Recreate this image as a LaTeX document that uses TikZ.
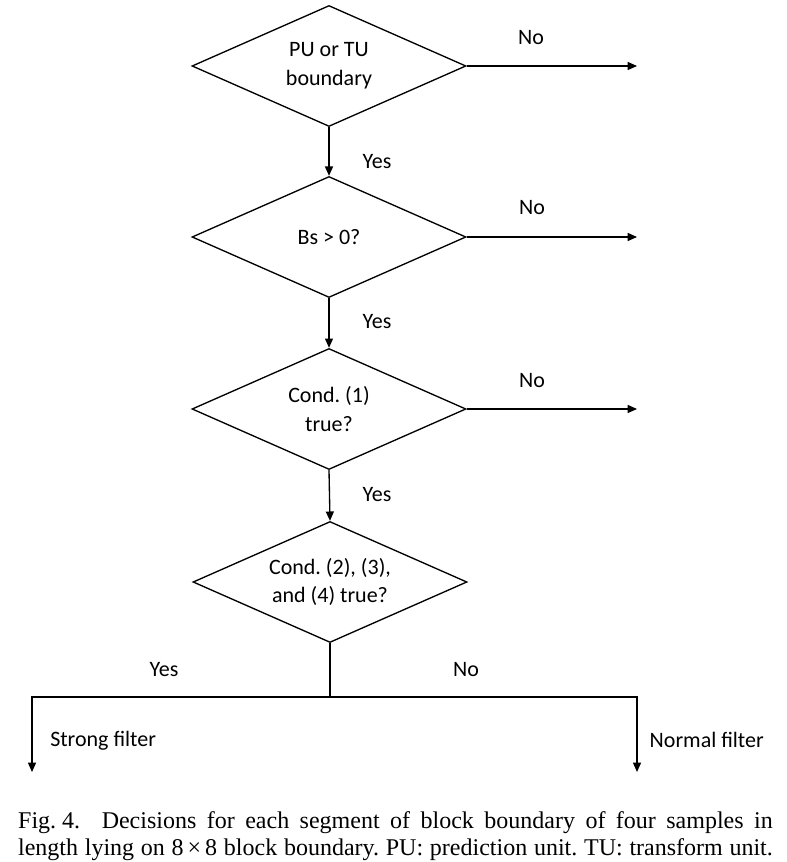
\documentclass[tikz,border=0pt]{standalone}
\usepackage{fontspec}
\setmainfont{Carlito}
\newfontfamily\capfont{Liberation Serif}
\usetikzlibrary{shapes.geometric,arrows.meta}
\begin{document}
\frenchspacing
\begin{tikzpicture}[x=0.75pt,y=-0.75pt,
  every node/.style={font=\fontsize{16.5}{21.5}\selectfont},
  dec/.style={draw,diamond,aspect=2.25,minimum width=205.5pt,minimum height=90.75pt,inner sep=0pt,align=center,line width=1pt},
  arr/.style={line width=1pt,-{Triangle[length=7pt,width=6pt]}},
  ln/.style={line width=1pt},
  lbl/.style={inner sep=0pt}]
\useasboundingbox (0,0) rectangle (787,862);
\node[dec] (d1) at (329,66) {PU or TU\\boundary};
\node[dec] (d2) at (329,237) {Bs > 0?};
\node[dec] (d3) at (329,409) {Cond. (1)\\true?};
\node[dec] (d4) at (330,582) {Cond. (2), (3),\\and (4) true?};
\coordinate (e1) at (637,66);
\coordinate (e2) at (637,237);
\coordinate (e3) at (637,409);
\coordinate (j) at (330,697);
\coordinate (jl) at (32,697);
\coordinate (jr) at (637,697);
\coordinate (sl) at (32,772);
\coordinate (sr) at (637,772);
\draw[arr] (d1.east) -- (e1);
\draw[arr] (d2.east) -- (e2);
\draw[arr] (d3.east) -- (e3);
\draw[arr] (d1.south) -- (d2.north);
\draw[arr] (d2.south) -- (d3.north);
\draw[arr] (d3.south) -- (d4.north);
\draw[ln] (d4.south) -- (j);
\draw[arr] (j) -- (jl) -- (sl);
\draw[arr] (j) -- (jr) -- (sr);
\node[lbl] (n1) at (531,38) {No};
\node[lbl] (n2) at (532,208) {No};
\node[lbl] (n3) at (532,381) {No};
\node[lbl] (y1) at (377,162) {Yes};
\node[lbl] (y2) at (377,322) {Yes};
\node[lbl] (y3) at (377,495) {Yes};
\node[lbl] (y4) at (164,670) {Yes};
\node[lbl] (n4) at (466,670) {No};
\node[lbl,anchor=west] (sf) at (50,741) {Strong filter};
\node[lbl,anchor=east] (nf) at (764,740) {Normal filter};
\node[inner sep=0pt,align=left,font=\capfont\fontsize{18}{20.2}\selectfont] (cap) at (395.5,836)
  {\makebox[566pt][s]{\hbox{Fig.\ 4.}\hspace{0.9em}Decisions for each segment of block boundary of four samples in}\\
   \makebox[566pt][s]{length lying on 8\,×\,8 block boundary. PU: prediction unit. TU: transform unit.}};
\end{tikzpicture}
\end{document}
